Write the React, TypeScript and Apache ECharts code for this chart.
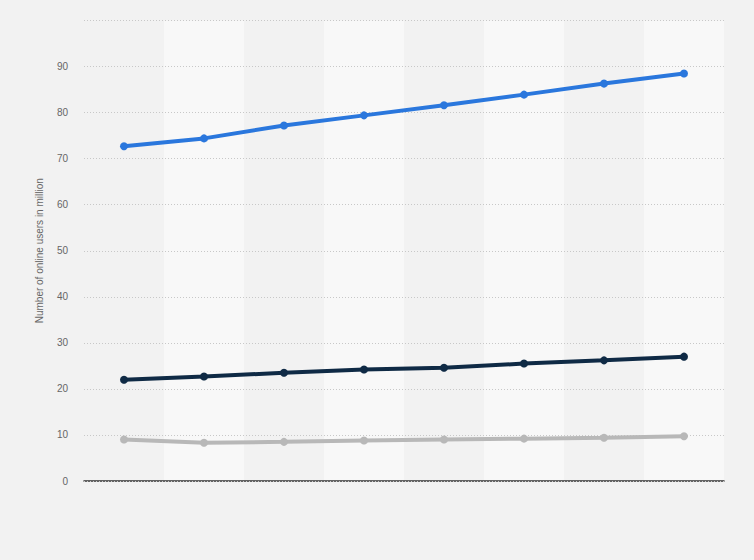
import React, { useEffect, useRef } from "react";
import * as echarts from "echarts";

const categories = ["1", "2", "3", "4", "5", "6", "7", "8"];
const seriesBlue = [72.7, 74.4, 77.2, 79.4, 81.6, 83.9, 86.3, 88.5];
const seriesNavy = [22.0, 22.7, 23.5, 24.2, 24.6, 25.5, 26.2, 27.0];
const seriesGray = [9.0, 8.3, 8.5, 8.8, 9.0, 9.2, 9.4, 9.7];
const yAxisTitle = "Number of online users in million";

export default function App() {
  const ref = useRef<HTMLDivElement>(null);
  useEffect(() => {
    if (!ref.current) return;
    const chart = echarts.init(ref.current, undefined, { renderer: "svg" });
    const mk = (data: number[], color: string) => ({
      type: "line",
      data,
      symbol: "circle",
      symbolSize: 8,
      lineStyle: { color, width: 4 },
      itemStyle: { color },
      z: 3,
    });
    chart.setOption({
      animation: false,
      backgroundColor: "#f2f2f2",
      textStyle: { fontFamily: "Liberation Sans, Arial, sans-serif" },
      grid: { left: 84, right: 30, top: 20.5, bottom: 79, containLabel: false },
      xAxis: {
        type: "category",
        data: categories,
        boundaryGap: true,
        z: 0,
        axisLine: { show: true, lineStyle: { color: "#333", width: 1.5 } },
        axisTick: { show: false },
        axisLabel: { show: false },
        splitArea: { show: true, areaStyle: { color: ["#f2f2f2", "#f8f8f8"] } },
        splitLine: { show: false },
      },
      yAxis: {
        type: "value",
        min: 0,
        max: 100,
        interval: 10,
        z: 1,
        name: yAxisTitle,
        nameLocation: "middle",
        nameGap: 40,
        nameTextStyle: { color: "#666", fontSize: 10 },
        axisLine: { show: false },
        axisTick: { show: false },
        axisLabel: {
          color: "#666",
          fontSize: 10,
          margin: 16,
          formatter: (v: number) => (v === 100 ? "" : String(v)),
        },
        splitLine: { show: true, lineStyle: { color: "#c8c8c8", type: [1, 2], width: 1 } },
      },
      series: [mk(seriesGray, "#b8b8b8"), mk(seriesNavy, "#0f2a45"), mk(seriesBlue, "#2a77dd")],
    });
    return () => chart.dispose();
  }, []);
  return (
    <div
      ref={ref}
      style={{ position: "fixed", left: 0, top: 0, width: 754, height: 560 }}
    />
  );
}
